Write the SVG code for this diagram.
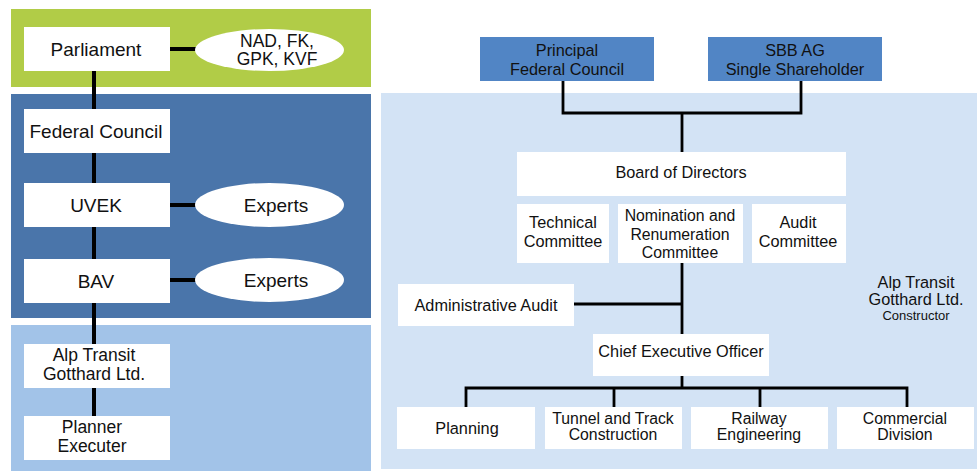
<svg xmlns="http://www.w3.org/2000/svg" width="978" height="473" viewBox="0 0 978 473">
  <style>
    .box { fill: #ffffff; }
    .head { fill: #5185c5; }
    .ell { fill: #ffffff; }
    .lt { font-family: "Liberation Sans", Arial, sans-serif; font-size: 19px; fill: #111111; text-anchor: middle; }
    .lt2 { font-size: 17.5px; }
    .rt { font-family: "Liberation Sans", Arial, sans-serif; font-size: 16.3px; fill: #111111; text-anchor: middle; }
    .rt2 { font-size: 15.8px; }
    .small { font-size: 13px; }
    .thick { stroke: #000000; stroke-width: 4; fill: none; }
    .thin { stroke: #000000; stroke-width: 2.8; fill: none; }
  </style>

  <!-- background bands -->
  <g id="bands">
    <rect x="11" y="9" width="360" height="78" fill="#b1cc47"/>
    <rect x="11" y="94" width="360" height="224" fill="#4a75aa"/>
    <rect x="11" y="325" width="360" height="146" fill="#a2c3e8"/>
    <rect x="381" y="93" width="596" height="376" fill="#d3e3f5"/>
  </g>

  <!-- connectors -->
  <g id="connectors">
    <line class="thick" x1="94" y1="71" x2="94" y2="416"/>
    <line class="thick" x1="170" y1="49" x2="196" y2="49"/>
    <line class="thick" x1="170" y1="205" x2="196" y2="205"/>
    <line class="thick" x1="170" y1="280" x2="196" y2="280"/>

    <polyline class="thin" points="563,81 563,113 801,113 801,81"/>
    <line class="thin" x1="682" y1="113" x2="682" y2="152"/>
    <line class="thin" x1="682" y1="263" x2="682" y2="334"/>
    <line class="thin" x1="574" y1="304" x2="682" y2="304"/>
    <line class="thin" x1="682" y1="376" x2="682" y2="388"/>
    <polyline class="thin" points="466,407 466,388 907,388 907,407"/>
    <line class="thin" x1="614" y1="388" x2="614" y2="407"/>
    <line class="thin" x1="760" y1="388" x2="760" y2="407"/>
  </g>

  <!-- left column -->
  <g id="parliament">
    <rect class="box" x="24" y="27" width="146" height="44"/>
    <text class="lt" x="96" y="56">Parliament</text>
  </g>
  <g id="committees-parliament">
    <ellipse class="ell" cx="269.5" cy="50" rx="74.5" ry="21"/>
    <text class="lt lt2" x="277" y="46.5">NAD, FK,</text>
    <text class="lt lt2" x="277" y="65">GPK, KVF</text>
  </g>
  <g id="federal-council">
    <rect class="box" x="24" y="109" width="146" height="44"/>
    <text class="lt" x="96" y="138">Federal Council</text>
  </g>
  <g id="uvek">
    <rect class="box" x="24" y="183" width="146" height="44"/>
    <text class="lt" x="96" y="212">UVEK</text>
  </g>
  <g id="experts-uvek">
    <ellipse class="ell" cx="269.5" cy="205" rx="74.5" ry="22"/>
    <text class="lt" x="276" y="212">Experts</text>
  </g>
  <g id="bav">
    <rect class="box" x="24" y="259" width="146" height="44"/>
    <text class="lt" x="96" y="288">BAV</text>
  </g>
  <g id="experts-bav">
    <ellipse class="ell" cx="269.5" cy="280" rx="74.5" ry="22"/>
    <text class="lt" x="276" y="287">Experts</text>
  </g>
  <g id="alptransit">
    <rect class="box" x="24" y="344" width="146" height="44"/>
    <text class="lt lt2" x="94" y="361">Alp Transit</text>
    <text class="lt lt2" x="94" y="379.5">Gotthard Ltd.</text>
  </g>
  <g id="planner">
    <rect class="box" x="24" y="416" width="146" height="44"/>
    <text class="lt lt2" x="92" y="433">Planner</text>
    <text class="lt lt2" x="92" y="452">Executer</text>
  </g>

  <!-- right column -->
  <g id="principal">
    <rect class="head" x="480" y="37" width="174" height="44"/>
    <text class="rt" x="567" y="56">Principal</text>
    <text class="rt" x="567" y="75">Federal Council</text>
  </g>
  <g id="sbb">
    <rect class="head" x="708" y="37" width="174" height="44"/>
    <text class="rt" x="795" y="56">SBB AG</text>
    <text class="rt" x="795" y="75">Single Shareholder</text>
  </g>
  <g id="board">
    <rect class="box" x="517" y="152" width="329" height="44"/>
    <text class="rt" x="681" y="178">Board of Directors</text>
  </g>
  <g id="technical-committee">
    <rect class="box" x="517" y="204" width="92" height="59"/>
    <text class="rt" x="563" y="228">Technical</text>
    <text class="rt" x="563" y="247">Committee</text>
  </g>
  <g id="nomination-committee">
    <rect class="box" x="618" y="204" width="125" height="59"/>
    <text class="rt rt2" x="680" y="221">Nomination and</text>
    <text class="rt rt2" x="680" y="240">Renumeration</text>
    <text class="rt rt2" x="680" y="258">Committee</text>
  </g>
  <g id="audit-committee">
    <rect class="box" x="752" y="204" width="94" height="59"/>
    <text class="rt" x="798" y="228">Audit</text>
    <text class="rt" x="798" y="247">Committee</text>
  </g>
  <g id="administrative-audit">
    <rect class="box" x="398" y="284" width="176" height="42"/>
    <text class="rt" x="486" y="311">Administrative Audit</text>
  </g>
  <g id="ceo">
    <rect class="box" x="593" y="334" width="176" height="42"/>
    <text class="rt" x="681" y="357">Chief Executive Officer</text>
  </g>
  <g id="planning">
    <rect class="box" x="397" y="407" width="138" height="42"/>
    <text class="rt" x="467" y="434">Planning</text>
  </g>
  <g id="tunnel">
    <rect class="box" x="545" y="407" width="137" height="42"/>
    <text class="rt rt2" x="613" y="424">Tunnel and Track</text>
    <text class="rt rt2" x="613" y="440">Construction</text>
  </g>
  <g id="railway">
    <rect class="box" x="691" y="407" width="137" height="42"/>
    <text class="rt rt2" x="759" y="424">Railway</text>
    <text class="rt rt2" x="759" y="440">Engineering</text>
  </g>
  <g id="commercial">
    <rect class="box" x="837" y="407" width="137" height="42"/>
    <text class="rt rt2" x="905" y="424">Commercial</text>
    <text class="rt rt2" x="905" y="440">Division</text>
  </g>
  <g id="constructor-label">
    <text class="rt" x="916" y="288">Alp Transit</text>
    <text class="rt" x="916" y="305">Gotthard Ltd.</text>
    <text class="rt small" x="916" y="320">Constructor</text>
  </g>
</svg>
